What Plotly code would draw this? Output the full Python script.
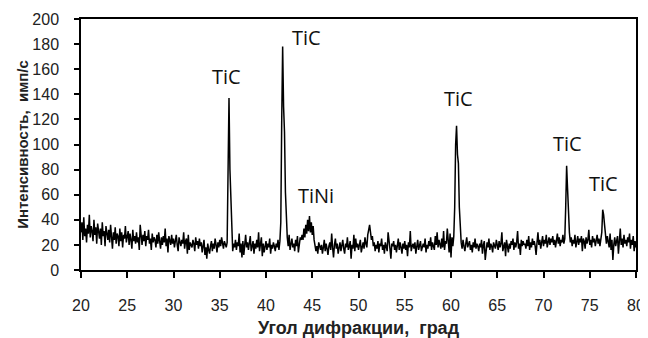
import numpy as np
import plotly.graph_objects as go

# Scan: 2theta from 20 to 80 deg, step 0.1 deg
angle_start = 20.0
angle_step = 0.1

# Intensity (imp/s), one row per degree (x.0 ... x.9)
intensity = [
    30, 38, 24, 42, 27, 33, 22, 36, 29, 44,   # 20
    26, 35, 31, 23, 40, 28, 34, 21, 37, 30,   # 21
    25, 33, 20, 38, 27, 31, 19, 35, 28, 24,   # 22
    32, 22, 36, 26, 17, 30, 24, 34, 21, 29,   # 23
    27, 19, 33, 23, 30, 18, 28, 25, 35, 22,   # 24
    26, 31, 20, 29, 24, 17, 32, 23, 27, 21,   # 25
    30, 22, 26, 16, 36, 24, 20, 28, 23, 31,   # 26
    19, 27, 24, 32, 21, 25, 16, 29, 22, 26,   # 27
    24, 18, 28, 21, 30, 23, 17, 26, 20, 27,   # 28
    22, 33, 19, 25, 14, 27, 23, 20, 28, 21,   # 29
    25, 18, 23, 28, 20, 15, 26, 22, 19, 24,   # 30
    21, 30, 17, 23, 25, 13, 28, 16, 22, 20,   # 31
    18, 24, 21, 15, 26, 20, 23, 17, 25, 19,   # 32
    22, 14, 20, 24, 12, 18, 9, 21, 16, 13,    # 33
    19, 23, 15, 21, 17, 25, 20, 14, 22, 18,   # 34
    24, 19, 26, 21, 17, 23, 20, 18, 22, 70,   # 35
    137, 80, 60, 25, 15, 21, 18, 24, 16, 22,  # 36
    19, 29, 14, 21, 10, 23, 12, 20, 28, 18,   # 37
    22, 16, 20, 27, 15, 19, 23, 13, 21, 17,   # 38
    24, 18, 30, 15, 20, 26, 11, 21, 14, 19,   # 39
    23, 16, 21, 18, 25, 13, 20, 17, 22, 19,   # 40
    15, 21, 18, 24, 16, 23, 38, 120, 178, 130,  # 41
    110, 62, 35, 26, 19, 28, 16, 22, 25, 18,  # 42
    21, 15, 24, 19, 27, 14, 22, 26, 24, 28,   # 43
    24, 33, 26, 36, 29, 40, 31, 43, 30, 38,   # 44
    28, 35, 24, 20, 15, 19, 13, 22, 18, 16,   # 45
    20, 13, 18, 24, 15, 21, 17, 12, 19, 22,   # 46
    16, 29, 18, 10, 20, 25, 17, 21, 13, 19,   # 47
    22, 15, 19, 24, 17, 13, 21, 18, 26, 16,   # 48
    19, 23, 9, 20, 17, 28, 15, 25, 18, 21,    # 49
    16, 20, 24, 14, 19, 22, 17, 26, 21, 18,   # 50
    28, 33, 36, 30, 24, 27, 19, 22, 15, 20,   # 51
    17, 23, 14, 21, 19, 25, 16, 20, 13, 22,   # 52
    18, 15, 30, 20, 17, 9, 21, 19, 23, 16,    # 53
    20, 14, 19, 25, 16, 22, 18, 13, 21, 17,   # 54
    23, 16, 20, 11, 22, 18, 31, 15, 19, 21,   # 55
    17, 22, 13, 20, 24, 16, 19, 23, 15, 20,   # 56
    21, 18, 25, 14, 20, 17, 23, 19, 26, 16,   # 57
    22, 19, 16, 27, 20, 30, 18, 24, 21, 17,   # 58
    25, 18, 31, 16, 23, 21, 33, 19, 14, 29,   # 59
    10, 26, 19, 27, 50, 100, 115, 92, 85, 50,  # 60
    30, 22, 17, 24, 19, 15, 21, 26, 18, 20,   # 61
    23, 16, 20, 14, 22, 18, 25, 17, 21, 19,   # 62
    15, 21, 18, 24, 13, 20, 23, 8, 19, 22,    # 63
    18, 25, 16, 21, 19, 14, 22, 20, 17, 24,   # 64
    20, 16, 23, 18, 21, 30, 15, 19, 22, 11,   # 65
    24, 19, 14, 21, 17, 23, 20, 25, 16, 22,   # 66
    18, 22, 31, 17, 21, 12, 24, 19, 23, 20,   # 67
    21, 17, 24, 19, 27, 16, 22, 18, 25, 20,   # 68
    23, 19, 12, 22, 30, 20, 24, 17, 21, 27,   # 69
    19, 24, 21, 28, 18, 23, 26, 20, 25, 22,   # 70
    27, 20, 24, 18, 25, 29, 21, 26, 19, 24,   # 71
    22, 28, 21, 25, 50, 83, 65, 45, 30, 22,   # 72
    26, 19, 24, 21, 28, 18, 23, 27, 20, 25,   # 73
    22, 27, 15, 25, 23, 17, 26, 21, 24, 32,   # 74
    20, 24, 18, 27, 22, 25, 19, 23, 28, 21,   # 75
    25, 19, 24, 30, 48, 44, 36, 26, 21, 27,   # 76
    22, 18, 29, 16, 24, 8, 20, 26, 19, 23,    # 77
    27, 13, 23, 33, 20, 25, 18, 28, 21, 24,   # 78
    19, 26, 22, 29, 17, 24, 20, 27, 15, 23,   # 79
    18,                                       # 80
]

angles = angle_start + angle_step * np.arange(len(intensity))

# Peak labels (phase names) and their placement in data coordinates
peak_labels = ["TiC", "TiC", "TiNi", "TiC", "TiC", "TiC"]
label_x = [35.7, 44.4, 45.4, 60.8, 72.55, 76.45]
label_y = [154, 185, 59, 137, 101, 69]

x_ticks = [20, 25, 30, 35, 40, 45, 50, 55, 60, 65, 70, 75, 80]
y_ticks = [0, 20, 40, 60, 80, 100, 120, 140, 160, 180, 200]

fig = go.Figure()
fig.add_trace(go.Scatter(
    x=angles, y=intensity, mode="lines",
    line=dict(color="black", width=1.5),
    showlegend=False, hoverinfo="skip",
))

for t, lx, ly in zip(peak_labels, label_x, label_y):
    fig.add_annotation(
        x=lx, y=ly, text=t, showarrow=False,
        font=dict(family="Open Sans", size=20, color="#111111"),
        xanchor="center", yanchor="middle",
    )

axis_font = dict(family="Liberation Sans", size=16, color="#222222")

# the page body adds an 8 px offset, so the figure is 8 px smaller
fig.update_layout(
    width=640, height=330,
    margin=dict(l=73, r=12, t=11, b=68, autoexpand=False),
    paper_bgcolor="white", plot_bgcolor="white",
    showlegend=False,
)
fig.update_xaxes(
    range=[20, 80], tickvals=x_ticks, ticktext=[str(v) for v in x_ticks],
    showgrid=False, zeroline=False, automargin=False,
    showline=True, linecolor="black", linewidth=1.5, mirror=True,
    ticks="outside", ticklen=6, tickwidth=1.5, tickcolor="black",
    tickfont=axis_font, ticklabelstandoff=14,
    title=dict(text="<b>Угол дифракции,  град</b>",
               font=dict(family="Liberation Sans", size=18, color="#222222"),
               standoff=8),
)
fig.update_yaxes(
    range=[0, 200], tickvals=y_ticks, ticktext=[str(v) for v in y_ticks],
    showgrid=False, zeroline=False, automargin=False,
    showline=True, linecolor="black", linewidth=1.5, mirror=True,
    ticks="outside", ticklen=5, tickwidth=1.5, tickcolor="black",
    tickfont=axis_font, ticklabelstandoff=12,
    title=dict(text="<b>Интенсивность,  имп/с</b>",
               font=dict(family="Liberation Sans", size=15, color="#222222"),
               standoff=0),
)

fig.write_html("out.html")
